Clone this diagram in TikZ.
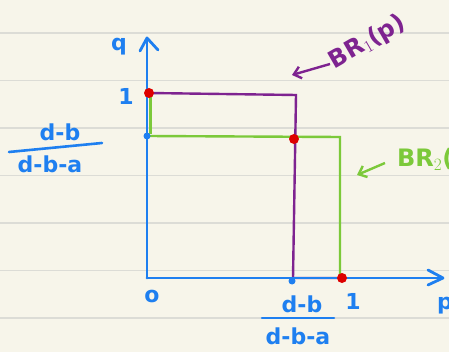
\documentclass[tikz,border=0pt]{standalone}
\usepackage{fontspec}
\setmainfont{DejaVu Sans}
\usetikzlibrary{arrows.meta}
\definecolor{paper}{HTML}{F7F5EA}
\definecolor{rule}{HTML}{DCDCD6}
\definecolor{axblue}{HTML}{1E7FF0}
\definecolor{brpurple}{HTML}{7E2390}
\definecolor{brgreen}{HTML}{7CC93A}
\definecolor{dotred}{HTML}{DD0000}
\tikzset{
  axis/.style={draw=axblue, line width=2.8pt, line cap=round},
  chev/.style={draw=axblue, line width=2.8pt, line cap=round, line join=round},
  purp/.style={draw=brpurple, line width=2.4pt},
  grn/.style={draw=brgreen, line width=2.4pt},
  reddot/.style={circle, fill=dotred, inner sep=0pt, minimum size=10pt},
  bluedot/.style={circle, fill=axblue, inner sep=0pt, minimum size=7pt},
  lbl/.style={text=axblue, font=\bfseries\fontsize{22}{24}\selectfont, inner sep=1pt},
  fracline/.style={draw=axblue, line width=2.6pt, line cap=round},
}
\begin{document}
\begin{tikzpicture}[x=1pt,y=-1pt]
\fill[paper] (0,0) rectangle (449,352);
\useasboundingbox (0,0) rectangle (449,352);
\clip (0,0) rectangle (449,352);
\foreach \yy in {33,80.5,128,175.5,223,270.5,318}
  \draw[rule, line width=1.2pt] (0,\yy) -- (449,\yy);
% coordinates
\coordinate (O) at (147,278);
\coordinate (Ytop) at (147,38);
\coordinate (Xend) at (441,278);
\coordinate (Q1) at (149,93);
\coordinate (Qs) at (147,136);
\coordinate (P1) at (342,278);
\coordinate (Mid) at (294,139);
% green BR
\draw[grn, line width=3pt] (150,95) -- (150,134);
\draw[grn] (Qs) -- (340,137) -- (340,278);
% purple BR
\draw[purp] (Q1) -- (296,95) -- (293,278) -- (P1);
% axes
\draw[axis] (O) -- (Ytop);
\draw[axis] (O) -- (Xend);
\draw[chev] (140,51) -- (147,38) -- (158,50);
\draw[chev] (428,270) -- (443,278) -- (428,285);
% dots
\node[bluedot] (bq) at (Qs) {};
\node[bluedot] (bp) at (292,281) {};
\node[reddot] (r1) at (Q1) {};
\node[reddot] (r2) at (Mid) {};
\node[reddot] (r3) at (P1) {};
% labels
\node[lbl] (qlab) at (119,47) {q};
\node[lbl] (plab) at (445,306) {p};
\node[lbl] (zero) at (152,296) {o};
\node[lbl] (oneq) at (126,96) {1};
\node[lbl] (onep) at (353,301) {1};
% fraction at left
\node[lbl] (fqn) at (60,132) {d-b};
\draw[fracline] (9,152) -- (102,143);
\node[lbl] (fqd) at (50,164) {d-b-a};
% fraction at bottom
\node[lbl] (fpn) at (302,304) {d-b};
\draw[fracline] (262,318) -- (334,318);
\node[lbl] (fpd) at (298,336) {d-b-a};
% purple annotation
\node[text=brpurple, font=\bfseries\fontsize{24}{26}\selectfont, rotate=30, anchor=west, inner sep=1pt] (br1) at (330,64) {BR$_1$(p)};
\coordinate (pa) at (292,75);
\draw[brpurple, line width=2.4pt, -{Straight Barb[length=7pt,width=12pt]}] (br1.west) -- (pa);
% green annotation
\node[text=brgreen, font=\bfseries\fontsize{24}{26}\selectfont, anchor=west, inner sep=1pt] (br2) at (396,160) {BR$_2$(q)};
\coordinate (ga) at (357,175);
\draw[brgreen, line width=2.4pt, -{Straight Barb[length=7pt,width=12pt]}] (385,163) -- (ga);
\end{tikzpicture}
\end{document}
